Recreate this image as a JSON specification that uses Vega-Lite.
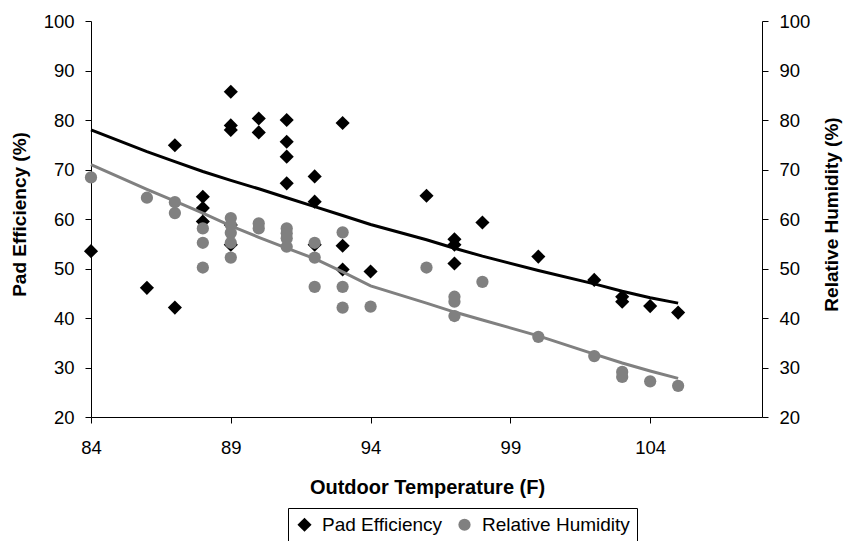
{
  "$schema": "https://vega.github.io/schema/vega-lite/v6.json",
  "autosize": {"type": "none"},
  "width": 671,
  "height": 396,
  "padding": {"left": 91, "top": 21, "right": 81, "bottom": 124},
  "background": "white",
  "config": {
    "view": {"stroke": null},
    "font": "Liberation Sans",
    "axis": {
      "grid": false,
      "labelFlush": false,
      "labelOverlap": false,
      "domainColor": "black",
      "tickColor": "black",
      "labelColor": "black",
      "titleColor": "black",
      "labelFont": "Liberation Sans",
      "labelFontSize": 18.5,
      "titleFont": "Liberation Sans",
      "titleFontWeight": "bold",
      "tickSize": 6,
      "domainWidth": 1,
      "tickWidth": 1
    }
  },
  "datasets": {
    "points": [
      {"temp": 84, "series": "Pad Efficiency", "value": 53.5},
      {"temp": 86, "series": "Pad Efficiency", "value": 46.1},
      {"temp": 87, "series": "Pad Efficiency", "value": 74.9},
      {"temp": 87, "series": "Pad Efficiency", "value": 42.1},
      {"temp": 88, "series": "Pad Efficiency", "value": 64.5},
      {"temp": 88, "series": "Pad Efficiency", "value": 62.2},
      {"temp": 88, "series": "Pad Efficiency", "value": 59.5},
      {"temp": 89, "series": "Pad Efficiency", "value": 85.7},
      {"temp": 89, "series": "Pad Efficiency", "value": 78.9},
      {"temp": 89, "series": "Pad Efficiency", "value": 78.0},
      {"temp": 89, "series": "Pad Efficiency", "value": 58.8},
      {"temp": 89, "series": "Pad Efficiency", "value": 54.8},
      {"temp": 90, "series": "Pad Efficiency", "value": 80.3},
      {"temp": 90, "series": "Pad Efficiency", "value": 77.5},
      {"temp": 91, "series": "Pad Efficiency", "value": 80.0},
      {"temp": 91, "series": "Pad Efficiency", "value": 75.6},
      {"temp": 91, "series": "Pad Efficiency", "value": 72.6},
      {"temp": 91, "series": "Pad Efficiency", "value": 67.2},
      {"temp": 92, "series": "Pad Efficiency", "value": 68.6},
      {"temp": 92, "series": "Pad Efficiency", "value": 63.5},
      {"temp": 92, "series": "Pad Efficiency", "value": 54.8},
      {"temp": 93, "series": "Pad Efficiency", "value": 79.4},
      {"temp": 93, "series": "Pad Efficiency", "value": 54.6},
      {"temp": 93, "series": "Pad Efficiency", "value": 49.8},
      {"temp": 94, "series": "Pad Efficiency", "value": 49.4},
      {"temp": 96, "series": "Pad Efficiency", "value": 64.7},
      {"temp": 97, "series": "Pad Efficiency", "value": 55.9},
      {"temp": 97, "series": "Pad Efficiency", "value": 54.8},
      {"temp": 97, "series": "Pad Efficiency", "value": 51.0},
      {"temp": 98, "series": "Pad Efficiency", "value": 59.3},
      {"temp": 100, "series": "Pad Efficiency", "value": 52.4},
      {"temp": 102, "series": "Pad Efficiency", "value": 47.7},
      {"temp": 103, "series": "Pad Efficiency", "value": 44.3},
      {"temp": 103, "series": "Pad Efficiency", "value": 43.3},
      {"temp": 104, "series": "Pad Efficiency", "value": 42.4},
      {"temp": 105, "series": "Pad Efficiency", "value": 41.1},
      {"temp": 84, "series": "Relative Humidity", "value": 68.4},
      {"temp": 86, "series": "Relative Humidity", "value": 64.3},
      {"temp": 87, "series": "Relative Humidity", "value": 63.4},
      {"temp": 87, "series": "Relative Humidity", "value": 61.2},
      {"temp": 88, "series": "Relative Humidity", "value": 58.1},
      {"temp": 88, "series": "Relative Humidity", "value": 55.2},
      {"temp": 88, "series": "Relative Humidity", "value": 50.2},
      {"temp": 89, "series": "Relative Humidity", "value": 60.2},
      {"temp": 89, "series": "Relative Humidity", "value": 58.8},
      {"temp": 89, "series": "Relative Humidity", "value": 57.2},
      {"temp": 89, "series": "Relative Humidity", "value": 55.2},
      {"temp": 89, "series": "Relative Humidity", "value": 52.2},
      {"temp": 90, "series": "Relative Humidity", "value": 59.1},
      {"temp": 90, "series": "Relative Humidity", "value": 58.1},
      {"temp": 91, "series": "Relative Humidity", "value": 58.1},
      {"temp": 91, "series": "Relative Humidity", "value": 57.1},
      {"temp": 91, "series": "Relative Humidity", "value": 56.1},
      {"temp": 91, "series": "Relative Humidity", "value": 54.4},
      {"temp": 92, "series": "Relative Humidity", "value": 55.2},
      {"temp": 92, "series": "Relative Humidity", "value": 52.2},
      {"temp": 92, "series": "Relative Humidity", "value": 46.3},
      {"temp": 93, "series": "Relative Humidity", "value": 57.3},
      {"temp": 93, "series": "Relative Humidity", "value": 46.3},
      {"temp": 93, "series": "Relative Humidity", "value": 42.1},
      {"temp": 94, "series": "Relative Humidity", "value": 42.3},
      {"temp": 96, "series": "Relative Humidity", "value": 50.2},
      {"temp": 97, "series": "Relative Humidity", "value": 44.3},
      {"temp": 97, "series": "Relative Humidity", "value": 43.3},
      {"temp": 97, "series": "Relative Humidity", "value": 40.4},
      {"temp": 98, "series": "Relative Humidity", "value": 47.3},
      {"temp": 100, "series": "Relative Humidity", "value": 36.2},
      {"temp": 102, "series": "Relative Humidity", "value": 32.3},
      {"temp": 103, "series": "Relative Humidity", "value": 29.1},
      {"temp": 103, "series": "Relative Humidity", "value": 28.1},
      {"temp": 104, "series": "Relative Humidity", "value": 27.2},
      {"temp": 105, "series": "Relative Humidity", "value": 26.3}
    ],
    "trend": [
      {"temp": 84, "series": "Pad Efficiency", "value": 78.0},
      {"temp": 86, "series": "Pad Efficiency", "value": 73.6},
      {"temp": 87, "series": "Pad Efficiency", "value": 71.6},
      {"temp": 88, "series": "Pad Efficiency", "value": 69.6},
      {"temp": 89, "series": "Pad Efficiency", "value": 67.8},
      {"temp": 90, "series": "Pad Efficiency", "value": 66.1},
      {"temp": 91, "series": "Pad Efficiency", "value": 64.3},
      {"temp": 92, "series": "Pad Efficiency", "value": 62.5},
      {"temp": 93, "series": "Pad Efficiency", "value": 60.7},
      {"temp": 94, "series": "Pad Efficiency", "value": 58.9},
      {"temp": 96, "series": "Pad Efficiency", "value": 55.8},
      {"temp": 97, "series": "Pad Efficiency", "value": 54.1},
      {"temp": 98, "series": "Pad Efficiency", "value": 52.5},
      {"temp": 100, "series": "Pad Efficiency", "value": 49.6},
      {"temp": 102, "series": "Pad Efficiency", "value": 46.9},
      {"temp": 103, "series": "Pad Efficiency", "value": 45.4},
      {"temp": 104, "series": "Pad Efficiency", "value": 44.1},
      {"temp": 105, "series": "Pad Efficiency", "value": 43.0},
      {"temp": 84, "series": "Relative Humidity", "value": 71.0},
      {"temp": 86, "series": "Relative Humidity", "value": 66.0},
      {"temp": 87, "series": "Relative Humidity", "value": 63.6},
      {"temp": 88, "series": "Relative Humidity", "value": 61.2},
      {"temp": 89, "series": "Relative Humidity", "value": 58.6},
      {"temp": 90, "series": "Relative Humidity", "value": 56.3},
      {"temp": 91, "series": "Relative Humidity", "value": 54.1},
      {"temp": 92, "series": "Relative Humidity", "value": 52.0},
      {"temp": 93, "series": "Relative Humidity", "value": 49.3},
      {"temp": 94, "series": "Relative Humidity", "value": 46.5},
      {"temp": 96, "series": "Relative Humidity", "value": 43.0},
      {"temp": 97, "series": "Relative Humidity", "value": 41.2},
      {"temp": 98, "series": "Relative Humidity", "value": 39.6},
      {"temp": 100, "series": "Relative Humidity", "value": 36.4},
      {"temp": 102, "series": "Relative Humidity", "value": 32.7},
      {"temp": 103, "series": "Relative Humidity", "value": 30.9},
      {"temp": 104, "series": "Relative Humidity", "value": 29.3},
      {"temp": 105, "series": "Relative Humidity", "value": 27.8}
    ]
  },
  "encoding": {
    "x": {
      "field": "temp",
      "type": "quantitative",
      "title": "Outdoor Temperature (F)",
      "scale": {"domain": [84, 108], "nice": false, "zero": false},
      "axis": {
        "values": [84, 89, 94, 99, 104],
        "labelPadding": 15,
        "titleFontSize": 20,
        "titleX": 336,
        "titleY": 76,
        "titleBaseline": "alphabetic",
        "titleAlign": "center"
      }
    }
  },
  "layer": [
    {
      "data": {"name": "points"},
      "mark": {"type": "point", "filled": true, "opacity": 1},
      "encoding": {
        "y": {
          "field": "value",
          "type": "quantitative",
          "title": "Pad Efficiency (%)",
          "scale": {"domain": [20, 100], "nice": false, "zero": false},
          "axis": {
            "orient": "left",
            "values": [20, 30, 40, 50, 60, 70, 80, 90, 100],
            "labelPadding": 11,
            "titleFontSize": 19,
            "titleAngle": -90,
            "titleX": -66,
            "titleY": 193,
            "titleBaseline": "alphabetic",
            "titleAlign": "center"
          }
        },
        "color": {
          "field": "series",
          "type": "nominal",
          "scale": {"domain": ["Pad Efficiency", "Relative Humidity"], "range": ["black", "#808080"]},
          "legend": {
            "orient": "none",
            "legendX": 197,
            "legendY": 487,
            "direction": "horizontal",
            "title": null,
            "strokeColor": "black",
            "fillColor": "white",
            "padding": 7,
            "labelFont": "Liberation Sans",
            "labelFontSize": 19,
            "labelColor": "black",
            "labelLimit": 300,
            "labelOffset": 8,
            "symbolSize": 150,
            "symbolStrokeWidth": 0,
            "columnPadding": 12
          }
        },
        "shape": {
          "field": "series",
          "type": "nominal",
          "scale": {"domain": ["Pad Efficiency", "Relative Humidity"], "range": ["diamond", "circle"]}
        },
        "size": {
          "field": "series",
          "type": "nominal",
          "scale": {"domain": ["Pad Efficiency", "Relative Humidity"], "range": [200, 150]},
          "legend": null
        }
      }
    },
    {
      "data": {"name": "trend"},
      "transform": [{"filter": "datum.series === 'Pad Efficiency'"}],
      "mark": {"type": "line", "color": "black", "strokeWidth": 3},
      "encoding": {
        "y": {
          "field": "value",
          "type": "quantitative",
          "scale": {"domain": [20, 100], "nice": false, "zero": false},
          "axis": null
        }
      }
    },
    {
      "data": {"name": "trend"},
      "transform": [{"filter": "datum.series === 'Relative Humidity'"}],
      "mark": {"type": "line", "color": "#808080", "strokeWidth": 3},
      "encoding": {
        "y": {
          "field": "value",
          "type": "quantitative",
          "title": "Relative Humidity (%)",
          "scale": {"domain": [20, 100], "nice": false, "zero": false},
          "axis": {
            "orient": "right",
            "values": [20, 30, 40, 50, 60, 70, 80, 90, 100],
            "labelPadding": 11,
            "titleFontSize": 19,
            "titleAngle": -90,
            "titleX": 75,
            "titleY": 193,
            "titleBaseline": "alphabetic",
            "titleAlign": "center"
          }
        }
      }
    }
  ],
  "resolve": {"scale": {"y": "independent"}}
}
